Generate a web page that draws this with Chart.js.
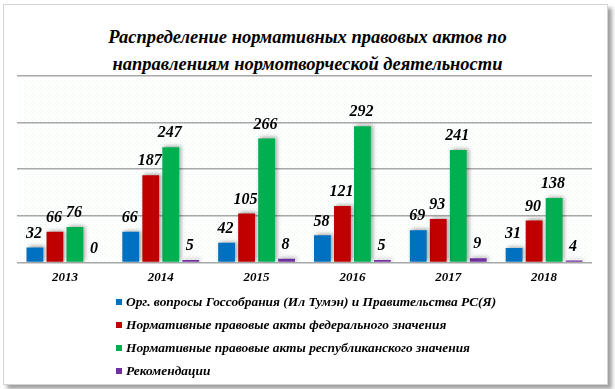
<!DOCTYPE html>
<html lang="ru">
<head>
<meta charset="utf-8">
<script src="https://cdn.jsdelivr.net/npm/chart.js@4/dist/chart.umd.min.js"></script>
<style>
  html, body { margin: 0; padding: 0; background: #fff; }
  body { width: 615px; height: 389px; position: relative; overflow: hidden; }
  #frame {
    position: absolute; left: 3px; top: 4px; width: 603px; height: 379px;
    border: 1px solid #d4d4d4; background: #fff;
    box-shadow: 4px 4px 4px rgba(0,0,0,0.38);
  }
  #title {
    position: absolute; left: 0; top: 24px; width: 615px; text-align: center;
    font: italic bold 18.5px "Liberation Serif", "Times New Roman", serif;
    line-height: 27px; color: #000;
  }
  #wrap { position: absolute; left: 0; top: 0; width: 615px; height: 301px; }
  #legend {
    position: absolute; left: 116px; top: 290px;
    font: italic bold 13.4px "Liberation Serif", "Times New Roman", serif; color: #000;
  }
  #legend div { height: 23px; line-height: 23px; white-space: nowrap; }
  #legend span.box { display: inline-block; width: 6px; height: 6px; margin-right: 4px; vertical-align: 1px; }
</style>
</head>
<body>
<div id="frame"></div>
<div id="title"></div>
<div id="wrap"><canvas id="chart-main"></canvas></div>
<div id="legend"></div>
<script>
// данные с диаграммы
const YEARS = ["2013", "2014", "2015", "2016", "2017", "2018"];
const ORG_VOPROSY = [32, 66, 42, 58, 69, 31];
const FEDERALNYE  = [66, 187, 105, 121, 93, 90];
const RESPUBLIKA  = [76, 247, 266, 292, 241, 138];
const REKOMEND    = [0, 5, 8, 5, 9, 4];
const SERIES_NAMES = [
  "Орг. вопросы Госсобрания (Ил Тумэн) и Правительства РС(Я)",
  "Нормативные правовые акты федерального значения",
  "Нормативные правовые акты республиканского значения",
  "Рекомендации"
];
const COLORS = ["#0070c0", "#c00000", "#00b050", "#7030a0"];
const TITLE = ["Распределение нормативных правовых актов по", "направлениям нормотворческой деятельности"];

const SERIF = '"Liberation Serif", "Times New Roman", serif';

document.getElementById("title").innerHTML = TITLE.join("<br>");

// точечный фон области построения
function makeDots() {
  const c = document.createElement("canvas");
  c.width = 4; c.height = 4;
  const g = c.getContext("2d");
  g.fillStyle = "rgba(120,210,140,0.18)";
  g.fillRect(0, 0, 1, 1);
  g.fillRect(2, 2, 1, 1);
  return c;
}

const barLook = {
  id: "barLook",
  beforeDraw(chart) {
    const { ctx, chartArea: a } = chart;
    ctx.save();
    ctx.fillStyle = ctx.createPattern(makeDots(), "repeat");
    ctx.fillRect(a.left, a.top, a.right - a.left, a.bottom - a.top);
    ctx.restore();
  },
  beforeDatasetsDraw(chart) {
    const ctx = chart.ctx;
    ctx.save();
    ctx.shadowColor = "rgba(0,0,0,0.35)";
    ctx.shadowBlur = 4;
    ctx.shadowOffsetX = 2;
    ctx.shadowOffsetY = -1;
  },
  afterDatasetsDraw(chart) {
    const ctx = chart.ctx;
    ctx.restore();
    ctx.save();
    ctx.font = "italic bold 16px " + SERIF;
    ctx.fillStyle = "#000";
    ctx.textAlign = "center";
    ctx.textBaseline = "middle";
    chart.data.datasets.forEach((ds, i) => {
      chart.getDatasetMeta(i).data.forEach((el, j) => {
        ctx.fillText(String(ds.data[j]), el.x - 1, el.y - 14);
      });
    });
    ctx.restore();
  }
};

const datasets = [ORG_VOPROSY, FEDERALNYE, RESPUBLIKA, REKOMEND].map((d, i) => ({
  label: SERIES_NAMES[i],
  data: d,
  backgroundColor: COLORS[i],
  borderWidth: 0,
  barPercentage: 0.84,
  categoryPercentage: 0.835
}));

new Chart(document.getElementById("chart-main"), {
  type: "bar",
  data: { labels: YEARS, datasets },
  options: {
    responsive: true, maintainAspectRatio: false, animation: false,
    layout: { padding: { left: 17, right: 23, top: 76, bottom: 9 } },
    plugins: {
      legend: { display: false },
      tooltip: { enabled: false },
      title: { display: false }
    },
    scales: {
      x: {
        grid: { display: false, drawTicks: false },
        border: { display: false },
        ticks: { color: "#000", padding: 7, font: { family: SERIF, size: 13, style: "italic", weight: "bold" } }
      },
      y: {
        min: 0, max: 400,
        ticks: { display: false, stepSize: 100 },
        border: { display: false },
        grid: { color: "#a8a8a8", lineWidth: 1.5, drawTicks: false }
      }
    }
  },
  plugins: [barLook]
});

// легенда
const leg = document.getElementById("legend");
SERIES_NAMES.forEach((name, i) => {
  const row = document.createElement("div");
  row.innerHTML = '<span class="box" style="background:' + COLORS[i] + '"></span>' + name;
  leg.appendChild(row);
});
</script>
</body>
</html>
